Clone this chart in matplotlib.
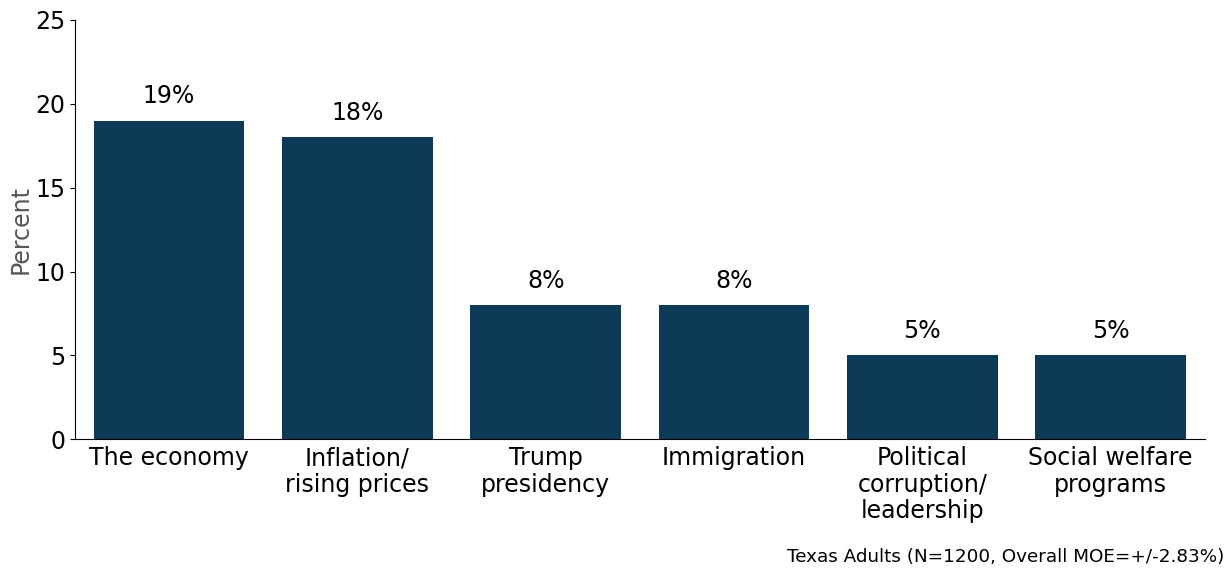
import matplotlib.pyplot as plt
import numpy as np

categories = ["The economy", "Inflation/\nrising prices", "Trump\npresidency",
              "Immigration", "Political\ncorruption/\nleadership", "Social welfare\nprograms"]
values = [19, 18, 8, 8, 5, 5]
yticks = [0, 5, 10, 15, 20, 25]

fig, ax = plt.subplots(figsize=(12.28, 5.69), dpi=100)
fig.subplots_adjust(left=0.061, right=0.981, top=0.965, bottom=0.228)

x = np.arange(len(categories))
bars = ax.bar(x, values, width=0.8, color="#0c3a57")

for xi, v in zip(x, values):
    ax.annotate(f"{v}%", (xi, v), xytext=(0, 9), textcoords="offset points",
                ha="center", va="bottom", fontsize=17)

ax.set_xlim(-0.5, 5.5)
ax.set_ylim(0, 25)
ax.set_yticks(yticks)
ax.set_xticks(x)
ax.set_xticklabels(categories, fontsize=17, linespacing=1.13)
ax.tick_params(axis="y", labelsize=17)
ax.tick_params(axis="x", length=0, pad=5)
ax.set_ylabel("Percent", fontsize=17, color="#555555", labelpad=2)

ax.spines["top"].set_visible(False)
ax.spines["right"].set_visible(False)

fig.text(0.997, 0.006, "Texas Adults (N=1200, Overall MOE=+/-2.83%)",
         ha="right", va="bottom", fontsize=13.2)

fig.savefig("out.png", dpi=100)
